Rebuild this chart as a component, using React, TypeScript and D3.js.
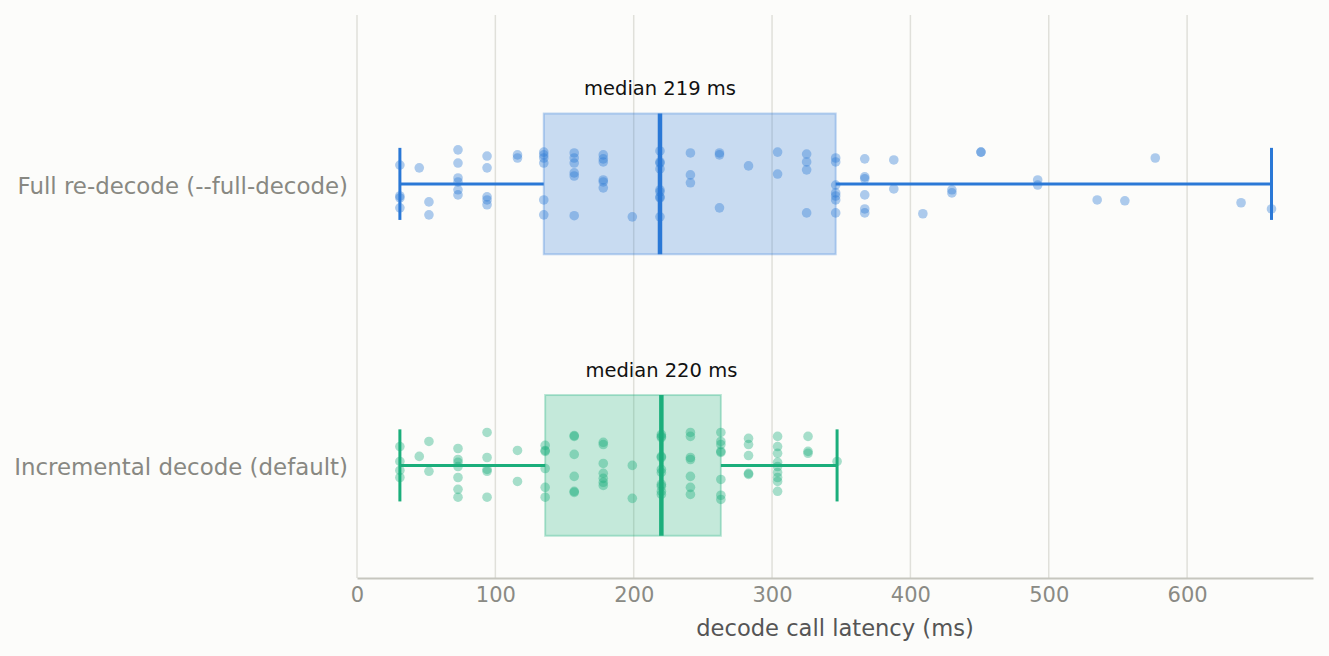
import React, { useEffect, useRef } from 'react';
import * as d3 from 'd3';

// decode call latency samples (ms) and their vertical jitter (in row units)
const categories = ['Incremental decode (default)', 'Full re-decode (--full-decode)'];
const colors = ['#1bae7b', '#2a78d6'];

const fullValues = [
  31, 31, 31, 31, 45, 52, 52,
  73, 73, 73, 73, 73, 73, 94, 94, 94, 94, 94, 116, 116,
  135, 135, 135, 135, 135, 135, 157, 157, 157, 157, 157, 157,
  178, 178, 178, 178, 178, 178, 199,
  219, 219, 219, 219, 219, 219, 219, 219, 219,
  241, 241, 241, 262, 262, 262, 283, 304, 304, 325, 325, 325, 325,
  346, 346, 346, 346, 346, 346, 346, 367, 367, 367, 367, 367, 367,
  388, 388, 409, 430, 430, 451, 451, 492, 492, 535, 555, 577, 639, 661,
];
const fullJitter = [
  0.067, -0.043, -0.05, -0.085, 0.057, -0.064, -0.11,
  0.121, 0.074, 0.021, 0.007, -0.021, -0.039, 0.099, 0.057, -0.046, -0.057, -0.074, 0.103, 0.092,
  0.113, 0.103, 0.092, 0.074, -0.057, -0.11, 0.11, 0.092, 0.074, 0.039, 0.028, -0.113,
  0.103, 0.089, 0.078, 0.014, 0.007, -0.014, -0.117,
  0.117, 0.078, 0.074, 0.053, -0.021, -0.028, -0.046, -0.05, -0.117,
  0.11, 0.032, 0.004, 0.11, 0.103, -0.085, 0.064, 0.113, 0.035, 0.106, 0.078, 0.05, -0.103,
  0.092, 0.078, -0.004, -0.032, -0.043, -0.057, -0.103, 0.089, 0.025, 0.018, -0.039, -0.089, -0.103,
  0.085, -0.018, -0.106, -0.021, -0.032, 0.113, 0.113, 0.014, -0.004, -0.057, -0.06, 0.092, -0.067, -0.089,
];

const incrValues = [
  31, 31, 31, 31, 45, 52, 52,
  73, 73, 73, 73, 73, 73, 73, 94, 94, 94, 94, 94, 116, 116,
  136, 136, 136, 136, 136, 136, 157, 157, 157, 157, 157, 157,
  178, 178, 178, 178, 178, 178, 178, 199, 199,
  220, 220, 220, 220, 220, 220, 220, 220, 220, 220, 220,
  241, 241, 241, 241, 241, 241, 241, 263, 263, 263, 263, 263, 263, 263, 263,
  283, 283, 283, 283, 283, 304, 304, 304, 304, 304, 304, 304, 304, 304,
  326, 326, 326, 347,
];
const incrJitter = [
  0.067, 0.014, -0.018, -0.043, 0.032, 0.085, -0.021,
  0.06, 0.021, 0.011, -0.004, -0.043, -0.085, -0.113, 0.117, 0.028, -0.014, -0.021, -0.113, 0.053, -0.057,
  0.071, 0.053, 0.05, -0.011, -0.078, -0.113, 0.106, 0.103, 0.039, -0.039, -0.092, -0.096,
  0.082, 0.074, 0.007, -0.028, -0.046, -0.06, -0.071, 0, -0.117,
  0.11, 0.103, 0.099, 0.032, 0.028, -0.014, -0.025, -0.067, -0.074, -0.092, -0.103,
  0.117, 0.103, 0.028, 0.021, -0.039, -0.078, -0.103, 0.117, 0.085, 0.074, 0.05, 0.046, -0.05, -0.106, -0.121,
  0.096, 0.074, 0.035, -0.028, -0.032, 0.103, 0.067, 0.043, 0.011, -0.004, -0.025, -0.043, -0.057, -0.092,
  0.103, 0.05, 0.043, 0.014,
];

const xTicks = [0, 100, 200, 300, 400, 500, 600];

const App = () => {
  const svgRef = useRef(null);

  useEffect(() => {
    document.body.style.margin = '0';
    const W = 1329;
    const H = 656;
    const margin = { top: 15, right: 16, bottom: 78, left: 357 };
    const font = "'DejaVu Sans', sans-serif";

    const svg = d3.select(svgRef.current);
    svg.selectAll('*').remove();
    svg.attr('width', W).attr('height', H);

    svg.append('rect').attr('width', W).attr('height', H).attr('fill', '#fcfcfa');

    const x = d3.scaleLinear().domain([0, 691]).range([margin.left, W - margin.right]);
    const y = d3.scaleLinear().domain([-0.4, 1.6]).range([H - margin.bottom, margin.top]);

    // vertical gridlines
    svg.append('g')
      .selectAll('line')
      .data(xTicks)
      .join('line')
      .attr('x1', d => x(d)).attr('x2', d => x(d))
      .attr('y1', y(1.6)).attr('y2', y(-0.4))
      .attr('stroke', '#e0e0da')
      .attr('stroke-width', 1.5);

    // x axis
    const xAxis = svg.append('g')
      .attr('transform', `translate(0,${y(-0.4)})`)
      .call(d3.axisBottom(x).tickValues(xTicks).tickSize(0).tickPadding(9));
    xAxis.select('.domain').attr('stroke', '#c6c6be').attr('stroke-width', 2);
    xAxis.selectAll('text')
      .style('font-family', font)
      .style('font-size', '21px')
      .attr('fill', '#8a8a84');

    svg.append('text')
      .attr('x', (x(0) + x(691)) / 2)
      .attr('y', 636)
      .attr('text-anchor', 'middle')
      .style('font-family', font)
      .style('font-size', '22.6px')
      .attr('fill', '#555555')
      .text('decode call latency (ms)');

    const series = [
      { values: incrValues, jitter: incrJitter },
      { values: fullValues, jitter: fullJitter },
    ];

    series.forEach((s, i) => {
      const color = colors[i];
      const sorted = s.values.slice().sort(d3.ascending);
      const q1 = d3.quantile(sorted, 0.25);
      const med = d3.quantile(sorted, 0.5);
      const q3 = d3.quantile(sorted, 0.75);
      const iqr = q3 - q1;
      const lo = d3.min(sorted.filter(v => v >= q1 - 1.5 * iqr));
      const hi = d3.max(sorted.filter(v => v <= q3 + 1.5 * iqr));
      const g = svg.append('g');

      // row label
      svg.append('text')
        .attr('x', x(0) - 9)
        .attr('y', y(i))
        .attr('dy', '0.42em')
        .attr('text-anchor', 'end')
        .style('font-family', font)
        .style('font-size', '22.9px')
        .attr('fill', '#888882')
        .text(categories[i]);

      // IQR box
      g.append('rect')
        .attr('x', x(q1))
        .attr('y', y(i + 0.25))
        .attr('width', x(q3) - x(q1))
        .attr('height', y(i - 0.25) - y(i + 0.25))
        .attr('fill', color)
        .attr('fill-opacity', 0.25)
        .attr('stroke', color)
        .attr('stroke-opacity', 0.3)
        .attr('stroke-width', 2);

      // jittered samples
      g.append('g')
        .selectAll('circle')
        .data(s.values.map((v, k) => ({ v, j: s.jitter[k] })))
        .join('circle')
        .attr('cx', d => x(d.v))
        .attr('cy', d => y(i + d.j))
        .attr('r', 4.8)
        .attr('fill', color)
        .attr('fill-opacity', 0.38);

      // whiskers
      [[lo, q1], [q3, hi]].forEach(([a, b]) => {
        g.append('line')
          .attr('x1', x(a)).attr('x2', x(b))
          .attr('y1', y(i)).attr('y2', y(i))
          .attr('stroke', color).attr('stroke-width', 3);
      });
      [lo, hi].forEach(v => {
        g.append('line')
          .attr('x1', x(v)).attr('x2', x(v))
          .attr('y1', y(i + 0.128)).attr('y2', y(i - 0.128))
          .attr('stroke', color).attr('stroke-width', 3);
      });

      // median
      g.append('line')
        .attr('x1', x(med)).attr('x2', x(med))
        .attr('y1', y(i + 0.25)).attr('y2', y(i - 0.25))
        .attr('stroke', color).attr('stroke-width', 4.5);

      g.append('text')
        .attr('x', x(med))
        .attr('y', y(i + 0.25) - 18.5)
        .attr('text-anchor', 'middle')
        .style('font-family', font)
        .style('font-size', '19.5px')
        .attr('fill', '#111111')
        .text(`median ${Math.round(med)} ms`);
    });
  }, []);

  return <svg ref={svgRef} style={{ display: 'block' }}></svg>;
};

export default App;
